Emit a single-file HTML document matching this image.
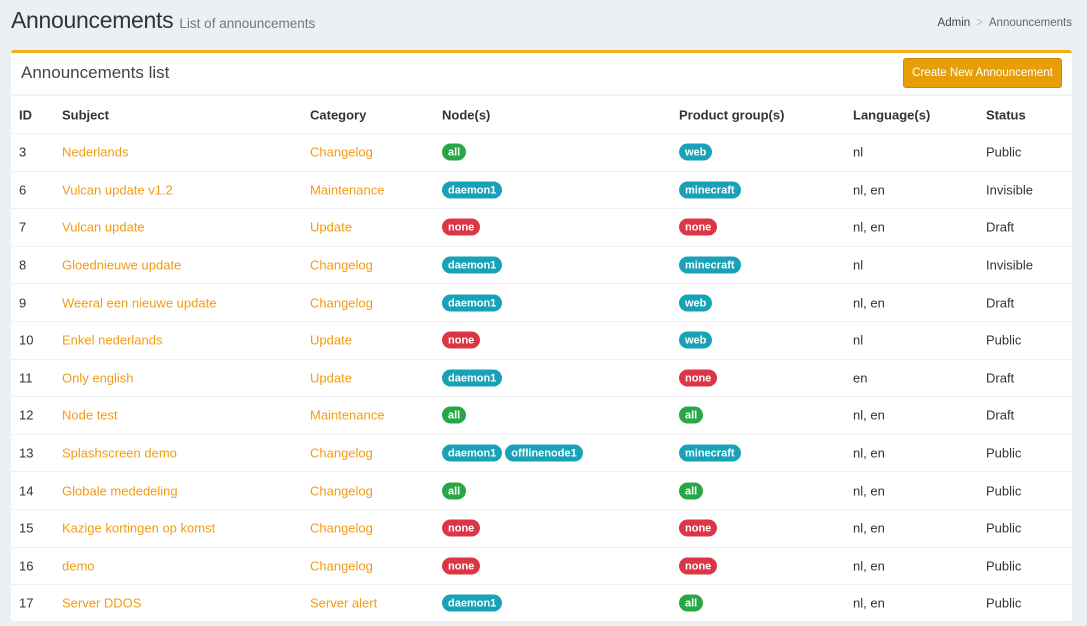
<!DOCTYPE html>
<html><head><meta charset="utf-8"><style>
*{box-sizing:border-box;margin:0;padding:0}
body{width:1087px;height:626px;background:#ecf0f5;font-family:"Liberation Sans",sans-serif;color:#333;position:relative;overflow:hidden;font-size:13px}
.h1{position:absolute;left:11px;top:7px;font-size:23px;color:#333;letter-spacing:-0.3px}
.h1 small{font-size:13.5px;color:#777;letter-spacing:0}
.bc{position:absolute;right:15px;top:17px;font-size:11.5px;color:#666}
.bc b{font-weight:normal;color:#444}
.bc i{font-style:normal;color:#bbb;margin:0 6px}
.box{position:absolute;left:11px;top:50px;width:1061px;height:571px;background:#fff;border-top:3px solid #f3ae14;border-radius:3px}
.title{position:absolute;left:10px;top:10px;font-size:17px;color:#444}
.btn{position:absolute;left:892px;top:5px;width:159px;height:30px;background:#e89f07;border:1px solid #c98a05;border-radius:3px;color:#fff;font-size:11.5px;text-align:center;line-height:28px}
.hr{position:absolute;left:0;top:41px;width:100%;height:2px;background:#f1f1f1}
.row{position:absolute;left:0;width:100%;height:37.6px;border-top:1px solid #eef0f2}
.row span{position:absolute;top:50%;transform:translateY(-50%);white-space:nowrap;line-height:17px}
.th span{font-weight:bold;color:#333}
.a{color:#f39c12}
.bd{display:inline-block;vertical-align:top;color:#fff;font-weight:bold;font-size:11px;border-radius:9px;padding:0 6px;height:17px;line-height:18px;margin-right:3px;font-style:normal}
.g{background:#28a745}.t{background:#17a2b8}.r{background:#dc3545}
</style></head><body>
<div class="h1">Announcements <small>List of announcements</small></div>
<div class="bc"><b>Admin</b><i>&gt;</i>Announcements</div>
<div class="box">
<div class="title">Announcements list</div>
<div class="btn">Create New Announcement</div>
<div class="hr"></div>
<div class="row th" style="top:43px;border-top:none;height:37px"><span style="left:8px">ID</span><span style="left:51px">Subject</span><span style="left:299px">Category</span><span style="left:431px">Node(s)</span><span style="left:668px">Product group(s)</span><span style="left:842px">Language(s)</span><span style="left:975px">Status</span></div>
<div id="rows"></div>
</div>
<script>
var d=[["3","Nederlands","Changelog",[["g","all"]],[["t","web"]],"nl","Public"],
["6","Vulcan update v1.2","Maintenance",[["t","daemon1"]],[["t","minecraft"]],"nl, en","Invisible"],
["7","Vulcan update","Update",[["r","none"]],[["r","none"]],"nl, en","Draft"],
["8","Gloednieuwe update","Changelog",[["t","daemon1"]],[["t","minecraft"]],"nl","Invisible"],
["9","Weeral een nieuwe update","Changelog",[["t","daemon1"]],[["t","web"]],"nl, en","Draft"],
["10","Enkel nederlands","Update",[["r","none"]],[["t","web"]],"nl","Public"],
["11","Only english","Update",[["t","daemon1"]],[["r","none"]],"en","Draft"],
["12","Node test","Maintenance",[["g","all"]],[["g","all"]],"nl, en","Draft"],
["13","Splashscreen demo","Changelog",[["t","daemon1"],["t","offlinenode1"]],[["t","minecraft"]],"nl, en","Public"],
["14","Globale mededeling","Changelog",[["g","all"]],[["g","all"]],"nl, en","Public"],
["15","Kazige kortingen op komst","Changelog",[["r","none"]],[["r","none"]],"nl, en","Public"],
["16","demo","Changelog",[["r","none"]],[["r","none"]],"nl, en","Public"],
["17","Server DDOS","Server alert",[["t","daemon1"]],[["g","all"]],"nl, en","Public"]];
function b(a){return a.map(function(x){return '<i class="bd '+x[0]+'">'+x[1]+'</i>'}).join('')}
var h='';d.forEach(function(r,i){var top=80+i*37.6;
h+='<div class="row" style="top:'+top+'px"><span style="left:8px">'+r[0]+'</span><span class="a" style="left:51px">'+r[1]+'</span><span class="a" style="left:299px">'+r[2]+'</span><span style="left:431px">'+b(r[3])+'</span><span style="left:668px">'+b(r[4])+'</span><span style="left:842px">'+r[5]+'</span><span style="left:975px">'+r[6]+'</span></div>'});
document.getElementById('rows').innerHTML=h;
</script>
</body></html>
